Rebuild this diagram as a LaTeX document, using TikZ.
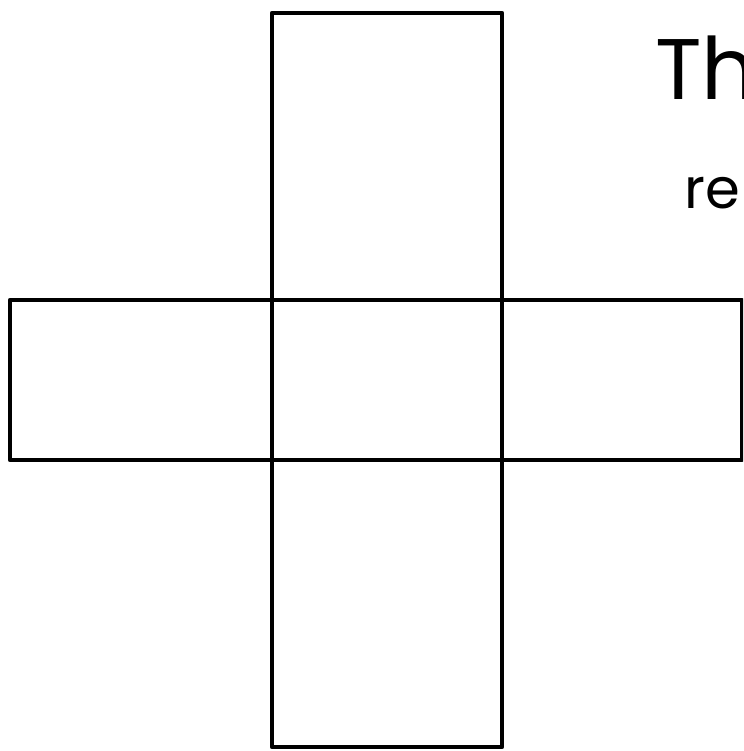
\documentclass[tikz,border=0pt]{standalone}
\usepackage{fontspec}
\setmainfont{Poppins}
\usetikzlibrary{positioning}

\begin{document}
\begin{tikzpicture}[
  x=1pt, y=-1pt,
  facebox/.style={draw=black, line width=4.5pt, line join=round,
                  inner sep=0pt, outer sep=0pt},
  note/.style={inner sep=0pt, anchor=base west, text=black},
]
\useasboundingbox (0,0) rectangle (743,751);
\clip (0,0) rectangle (743,751);

% ---------- cross of faces ----------
\node[facebox, minimum width=230pt, minimum height=287pt] (top) at (387,156.5) {};
\node[facebox, minimum width=262pt, minimum height=160pt] (left) at (141,380) {};
\node[facebox, minimum width=230pt, minimum height=160pt] (mid) at (387,380) {};
\node[facebox, minimum width=240pt, minimum height=160pt] (right) at (622,380) {};
\node[facebox, minimum width=230pt, minimum height=287pt] (bottom) at (387,603.5) {};

% ---------- text, cut at the edge ----------
\node[note, font=\fontsize{86}{86}\selectfont] (title) at (655,100) {Th};
\node[note, font=\fontsize{56}{56}\selectfont] (sub) at (684,208) {re};

\end{tikzpicture}
\end{document}
